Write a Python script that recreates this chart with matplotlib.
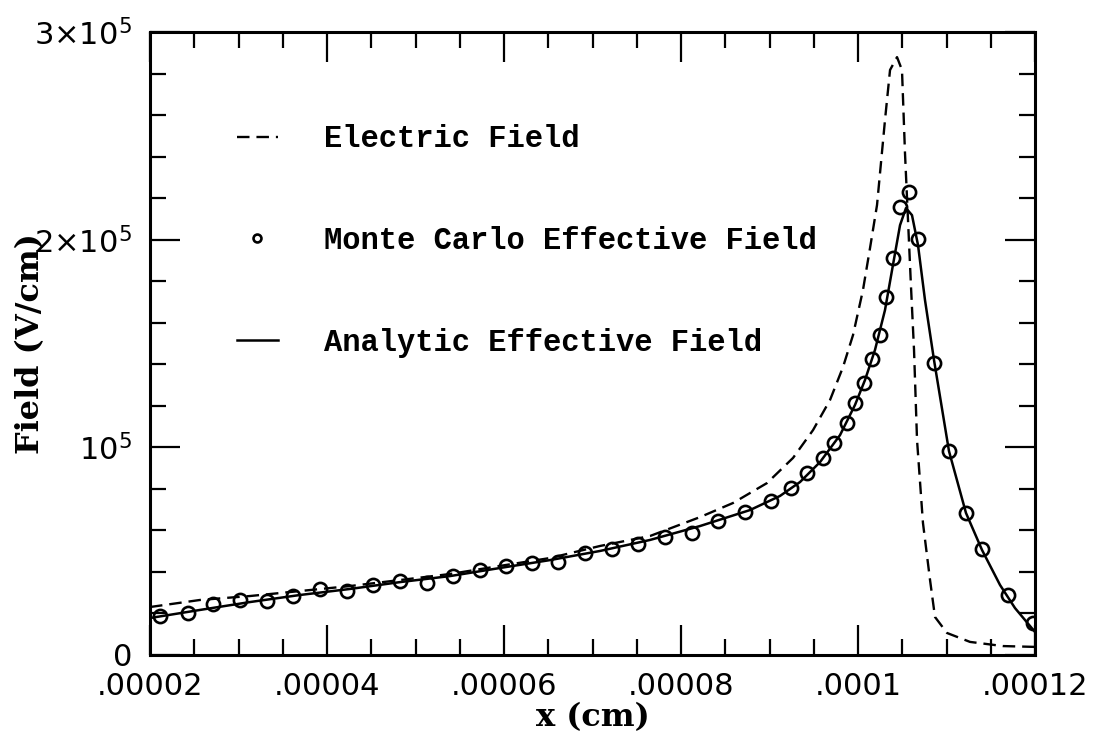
import matplotlib
matplotlib.use("Agg")
import matplotlib.pyplot as plt
import numpy as np
from matplotlib.ticker import MultipleLocator, FixedLocator, FixedFormatter

# x in units of 1e-5 cm, field in units of 1e3 V/cm
ef_x = [2.000, 2.565, 3.130, 3.695, 4.260, 4.825, 5.390, 5.955, 6.520, 7.085,
        7.650, 8.215, 8.588, 8.972, 9.266, 9.492, 9.684, 9.831, 9.944, 10.056,
        10.136, 10.215, 10.305, 10.362, 10.441, 10.497, 10.531, 10.565, 10.599,
        10.633, 10.667, 10.734, 10.814, 10.870, 11.006, 11.266, 11.638, 12.000]
ef_y = [23.1, 26.5, 28.4, 30.8, 33.2, 36.1, 39.0, 42.9, 46.7, 52.5,
        57.3, 66.4, 73.2, 82.8, 94.9, 108.3, 122.8, 138.7, 154.1, 175.7,
        196.0, 216.7, 257.6, 281.7, 287.9, 281.7, 241.7, 209.5, 177.2,
        146.9, 103.5, 63.6, 36.1, 18.3, 10.6, 6.3, 4.3, 3.9]

an_x = [2.000, 2.565, 3.130, 3.695, 4.260, 4.825, 5.390, 5.955, 6.520, 7.085,
        7.650, 8.215, 8.780, 9.119, 9.345, 9.571, 9.797, 9.966, 10.079, 10.192,
        10.305, 10.395, 10.475, 10.542, 10.610, 10.678, 10.757, 10.859, 11.028,
        11.220, 11.401, 11.605, 11.774, 12.000]
an_y = [17.8, 21.7, 25.5, 28.9, 31.8, 35.1, 38.0, 41.9, 45.7, 50.1,
        55.4, 62.1, 69.8, 76.6, 83.3, 92.9, 105.9, 120.4, 132.4, 146.9,
        166.1, 187.8, 207.0, 215.2, 211.8, 197.4, 170.9, 142.0, 98.2,
        68.4, 50.6, 33.7, 22.6, 11.1]

mc_x = [2.11, 2.43, 2.71, 3.02, 3.32, 3.62, 3.92, 4.23, 4.52, 4.83,
        5.13, 5.42, 5.73, 6.02, 6.32, 6.61, 6.92, 7.22, 7.51, 7.82,
        8.12, 8.42, 8.72, 9.02, 9.24, 9.42, 9.61, 9.73, 9.88, 9.97,
        10.07, 10.16, 10.25, 10.32, 10.40, 10.48, 10.58, 10.68, 10.86, 11.03,
        11.22, 11.40, 11.70, 11.98]
mc_y = [18.8, 20.2, 24.6, 26.5, 26.0, 28.4, 31.8, 30.8, 33.7, 35.6,
        34.7, 38.0, 40.9, 42.9, 44.3, 44.8, 49.1, 51.0, 53.4, 56.8,
        58.7, 64.5, 68.9, 74.2, 80.4, 87.6, 94.9, 102.1, 111.7, 121.3,
        131.0, 142.5, 154.1, 172.4, 191.2, 215.7, 222.9, 200.3, 140.6, 98.2,
        68.4, 51.0, 28.9, 15.4]

xticks = [2e-5, 4e-5, 6e-5, 8e-5, 1e-4, 1.2e-4]
xticklabels = ['.00002', '.00004', '.00006', '.00008', '.0001', '.00012']
yticks = [0, 1e5, 2e5, 3e5]
yticklabels = ['0', r'$10^5$', r'$2{\times}10^5$', r'$3{\times}10^5$']

plt.rcParams['lines.scale_dashes'] = False

fig = plt.figure(figsize=(10.95, 7.41), dpi=100)
ax = fig.add_axes([150 / 1095, 86 / 741, 885 / 1095, 623 / 741])

ax.plot(np.array(ef_x) * 1e-5, np.array(ef_y) * 1e3, color='black',
        lw=1.7, dashes=(9, 5), label='Electric Field')
ax.plot(np.array(mc_x) * 1e-5, np.array(mc_y) * 1e3, ls='none', marker='o',
        ms=9.5, mfc='none', mec='black', mew=1.9,
        label='Monte Carlo Effective Field')
ax.plot(np.array(an_x) * 1e-5, np.array(an_y) * 1e3, color='black',
        lw=1.8, label='Analytic Effective Field')

ax.set_xlim(2e-5, 1.2e-4)
ax.set_ylim(0, 3e5)

ax.xaxis.set_major_locator(FixedLocator(xticks))
ax.xaxis.set_major_formatter(FixedFormatter(xticklabels))
ax.xaxis.set_minor_locator(MultipleLocator(5e-6))
ax.yaxis.set_major_locator(FixedLocator(yticks))
ax.yaxis.set_major_formatter(FixedFormatter(yticklabels))
ax.yaxis.set_minor_locator(MultipleLocator(2e4))

ax.tick_params(which='both', direction='in', top=True, right=True,
               width=1.6, labelsize=22)
ax.tick_params(which='major', length=21.5)
ax.tick_params(which='minor', length=11.5)
ax.tick_params(axis='x', pad=12)
ax.tick_params(axis='y', pad=13)
for s in ax.spines.values():
    s.set_linewidth(2.2)

ax.set_xlabel('x (cm)', family='DejaVu Serif', weight='bold', fontsize=23)
ax.set_ylabel('Field (V/cm)', family='DejaVu Serif', weight='bold', fontsize=23)
ax.xaxis.set_label_coords(0.5, -0.075)
ax.yaxis.set_label_coords(-0.118, 0.5)

ax.legend(loc='upper left', bbox_to_anchor=(0.098, 0.852), frameon=False,
          prop={'family': 'Liberation Mono', 'weight': 'bold', 'size': 22},
          handlelength=1.35, handletextpad=1.5, labelspacing=2.35,
          borderpad=0, borderaxespad=0, markerscale=0.6)

fig.savefig('out.png', dpi=100)
